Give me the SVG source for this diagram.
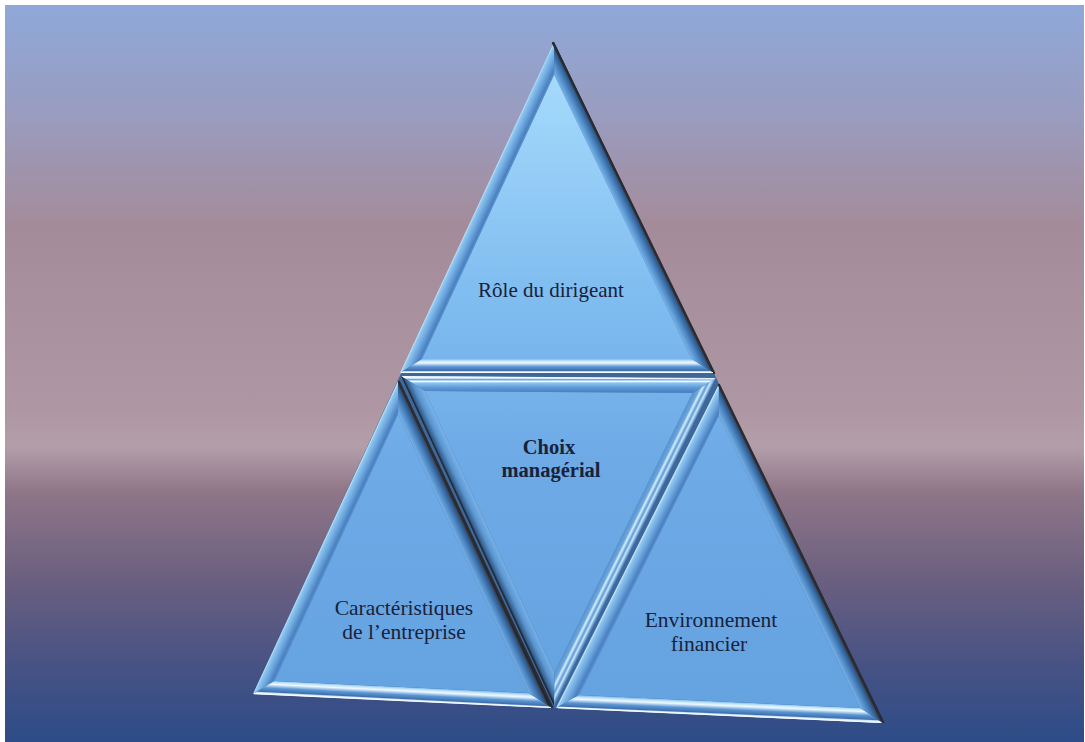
<svg xmlns="http://www.w3.org/2000/svg" width="1085" height="742" viewBox="0 0 1085 742">
  <defs>
    <linearGradient id="bg" x1="0" y1="5" x2="0" y2="742" gradientUnits="userSpaceOnUse">
      <stop offset="0" stop-color="#8ea8d9"/>
      <stop offset="0.15" stop-color="#9a9cbf"/>
      <stop offset="0.3" stop-color="#a48b9a"/>
      <stop offset="0.55" stop-color="#ae97a3"/>
      <stop offset="0.6" stop-color="#b29ea9"/>
      <stop offset="0.66" stop-color="#8f7688"/>
      <stop offset="0.78" stop-color="#6a5f80"/>
      <stop offset="0.9" stop-color="#465284"/>
      <stop offset="1" stop-color="#2d4c88"/>
    </linearGradient>
    <linearGradient id="face" x1="0" y1="60" x2="0" y2="720" gradientUnits="userSpaceOnUse">
      <stop offset="0" stop-color="#a8dcfc"/>
      <stop offset="0.35" stop-color="#80bdf0"/>
      <stop offset="0.6" stop-color="#6eaae6"/>
      <stop offset="1" stop-color="#64a2e0"/>
    </linearGradient>
    <linearGradient id="pLit">
      <stop offset="0" stop-color="#c2e6fc"/>
      <stop offset="0.12" stop-color="#8ec6f0"/>
      <stop offset="0.5" stop-color="#6aa4dc"/>
      <stop offset="0.85" stop-color="#4a80c0"/>
      <stop offset="1" stop-color="#5a92d0"/>
    </linearGradient>
    <linearGradient id="pShadow">
      <stop offset="0" stop-color="#222226"/>
      <stop offset="0.14" stop-color="#3a4a60"/>
      <stop offset="0.25" stop-color="#2f5f96"/>
      <stop offset="0.6" stop-color="#4f88c4"/>
      <stop offset="1" stop-color="#76b2e8"/>
    </linearGradient>
    <linearGradient id="pBottom">
      <stop offset="0" stop-color="#f4faff"/>
      <stop offset="0.1" stop-color="#cfe6f8"/>
      <stop offset="0.18" stop-color="#3f70ad"/>
      <stop offset="0.45" stop-color="#5a96d4"/>
      <stop offset="0.72" stop-color="#eef8ff"/>
      <stop offset="0.85" stop-color="#c8e8fc"/>
      <stop offset="1" stop-color="#7fb9ec"/>
    </linearGradient>
    <linearGradient id="pTopInv">
      <stop offset="0" stop-color="#eef8ff"/>
      <stop offset="0.1" stop-color="#6aa4dc"/>
      <stop offset="0.25" stop-color="#f4fbff"/>
      <stop offset="0.35" stop-color="#8cc4f0"/>
      <stop offset="0.7" stop-color="#5c98d6"/>
      <stop offset="1" stop-color="#4a82c4"/>
    </linearGradient>
    <linearGradient id="pInvLeft">
      <stop offset="0" stop-color="#1f2a3c"/>
      <stop offset="0.12" stop-color="#35608f"/>
      <stop offset="0.5" stop-color="#5d97d2"/>
      <stop offset="1" stop-color="#78b2e8"/>
    </linearGradient>
    <linearGradient id="pInvRight">
      <stop offset="0" stop-color="#4f86c4"/>
      <stop offset="0.2" stop-color="#c8e8fc"/>
      <stop offset="0.35" stop-color="#5f9ad6"/>
      <stop offset="0.55" stop-color="#d6eefd"/>
      <stop offset="0.7" stop-color="#6aa6dc"/>
      <stop offset="1" stop-color="#5a94d0"/>
    </linearGradient>
    <linearGradient id="gTL" href="#pLit" gradientUnits="userSpaceOnUse" x1="477" y1="207.5" x2="489.7" y2="213.4"/>
    <linearGradient id="gTB" href="#pBottom" gradientUnits="userSpaceOnUse" x1="557" y1="373" x2="557" y2="359"/>
    <linearGradient id="gTR" href="#pShadow" gradientUnits="userSpaceOnUse" x1="634" y1="207.5" x2="621.4" y2="213.6"/>
    <linearGradient id="gLL" href="#pLit" gradientUnits="userSpaceOnUse" x1="325.5" y1="537.5" x2="338.2" y2="543.4"/>
    <linearGradient id="gLB" href="#pBottom" gradientUnits="userSpaceOnUse" x1="402" y1="701" x2="402.7" y2="687"/>
    <linearGradient id="gLR" href="#pShadow" gradientUnits="userSpaceOnUse" x1="474.5" y1="544.5" x2="461.8" y2="550.4"/>
    <linearGradient id="gRL" href="#pLit" gradientUnits="userSpaceOnUse" x1="638" y1="546" x2="650.5" y2="552.3"/>
    <linearGradient id="gRB" href="#pBottom" gradientUnits="userSpaceOnUse" x1="720" y1="715.5" x2="720.6" y2="701.5"/>
    <linearGradient id="gRR" href="#pShadow" gradientUnits="userSpaceOnUse" x1="801" y1="553.5" x2="788.4" y2="559.6"/>
    <linearGradient id="gMT" href="#pTopInv" gradientUnits="userSpaceOnUse" x1="559" y1="378" x2="559" y2="392"/>
    <linearGradient id="gMR" href="#pInvRight" gradientUnits="userSpaceOnUse" x1="634.5" y1="542" x2="622" y2="535.8"/>
    <linearGradient id="gML" href="#pInvLeft" gradientUnits="userSpaceOnUse" x1="478.5" y1="541" x2="491.2" y2="535.1"/>
  </defs>
  <style>
    .face { fill: url(#face); }
    .lbl { font-family: "Liberation Serif", "Times New Roman", serif; fill: #18223a; text-anchor: middle; }
    .reg { font-size: 21px; }
    .big { font-size: 21.5px; }
    .bold { font-size: 20.5px; font-weight: bold; }
    .darkedge { fill: none; stroke: #2a2c33; stroke-width: 2.4; stroke-linecap: round; }
    .liteedge { fill: none; stroke: #f2f9ff; stroke-width: 1.2; }
  </style>

  <rect x="5" y="5" width="1079" height="737" fill="url(#bg)"/>

  <g id="pyramid-base">
    <polygon points="554,42 253,694 883,723" fill="#3f6898"/>
  </g>

  <g id="node-top">
    <polygon points="554,42 400,373 422,359 554.2,74.7" fill="url(#gTL)"/>
    <polygon points="400,373 714,373 691.7,359 422,359" fill="url(#gTB)"/>
    <polygon points="714,373 554,42 554.2,74.7 691.7,359" fill="url(#gTR)"/>
    <polygon class="face" points="554.2,74.7 422,359 691.7,359"/>
    <polyline class="darkedge" points="553,43 714,373"/>
    <line class="liteedge" x1="401" y1="372.5" x2="713" y2="372.5"/>
    <text class="lbl reg" x="551" y="297">Rôle du dirigeant</text>
  </g>

  <g id="node-center">
    <polygon points="401,376 716,378 692.5,392.9 424.9,391.1" fill="url(#gMT)"/>
    <polygon points="716,378 554,706 554.4,672.5 692.5,392.9" fill="url(#gMR)"/>
    <polygon points="554,706 401,376 424.9,391.1 554.4,672.5" fill="url(#gML)"/>
    <polygon class="face" points="424.9,391.1 692.5,392.9 554.4,672.5"/>
    <line class="liteedge" x1="403" y1="377" x2="714" y2="379"/>
    <text class="lbl bold" x="549" y="454">Choix</text>
    <text class="lbl bold" x="551" y="477">managérial</text>
  </g>

  <g id="node-left">
    <polygon points="398,381 253,694 274.4,681 398.1,414.2" fill="url(#gLL)"/>
    <polygon points="253,694 552,708 528.5,692.9 274.4,681" fill="url(#gLB)"/>
    <polygon points="552,708 398,381 398.1,414.2 528.5,692.9" fill="url(#gLR)"/>
    <polygon class="face" points="398.1,414.2 274.4,681 528.5,692.9"/>
    <polyline class="darkedge" points="399,382 552,707"/>
    <line class="liteedge" x1="254" y1="693.6" x2="551" y2="707.5"/>
    <text class="lbl big" x="404" y="615">Caractéristiques</text>
    <text class="lbl big" x="404" y="639">de l’entreprise</text>
  </g>

  <g id="node-right">
    <polygon points="719,384 556,708 579.1,695 718.8,415.7" fill="url(#gRL)"/>
    <polygon points="556,708 883,723 860.2,707.9 579.1,695" fill="url(#gRB)"/>
    <polygon points="883,723 719,384 718.8,415.7 860.2,707.9" fill="url(#gRR)"/>
    <polygon class="face" points="718.8,415.7 579.1,695 860.2,707.9"/>
    <polyline class="darkedge" points="719,385 883,722"/>
    <line class="liteedge" x1="558" y1="707.6" x2="880" y2="722.4"/>
    <text class="lbl big" x="711" y="627">Environnement</text>
    <text class="lbl big" x="709" y="651">financier</text>
  </g>
</svg>
